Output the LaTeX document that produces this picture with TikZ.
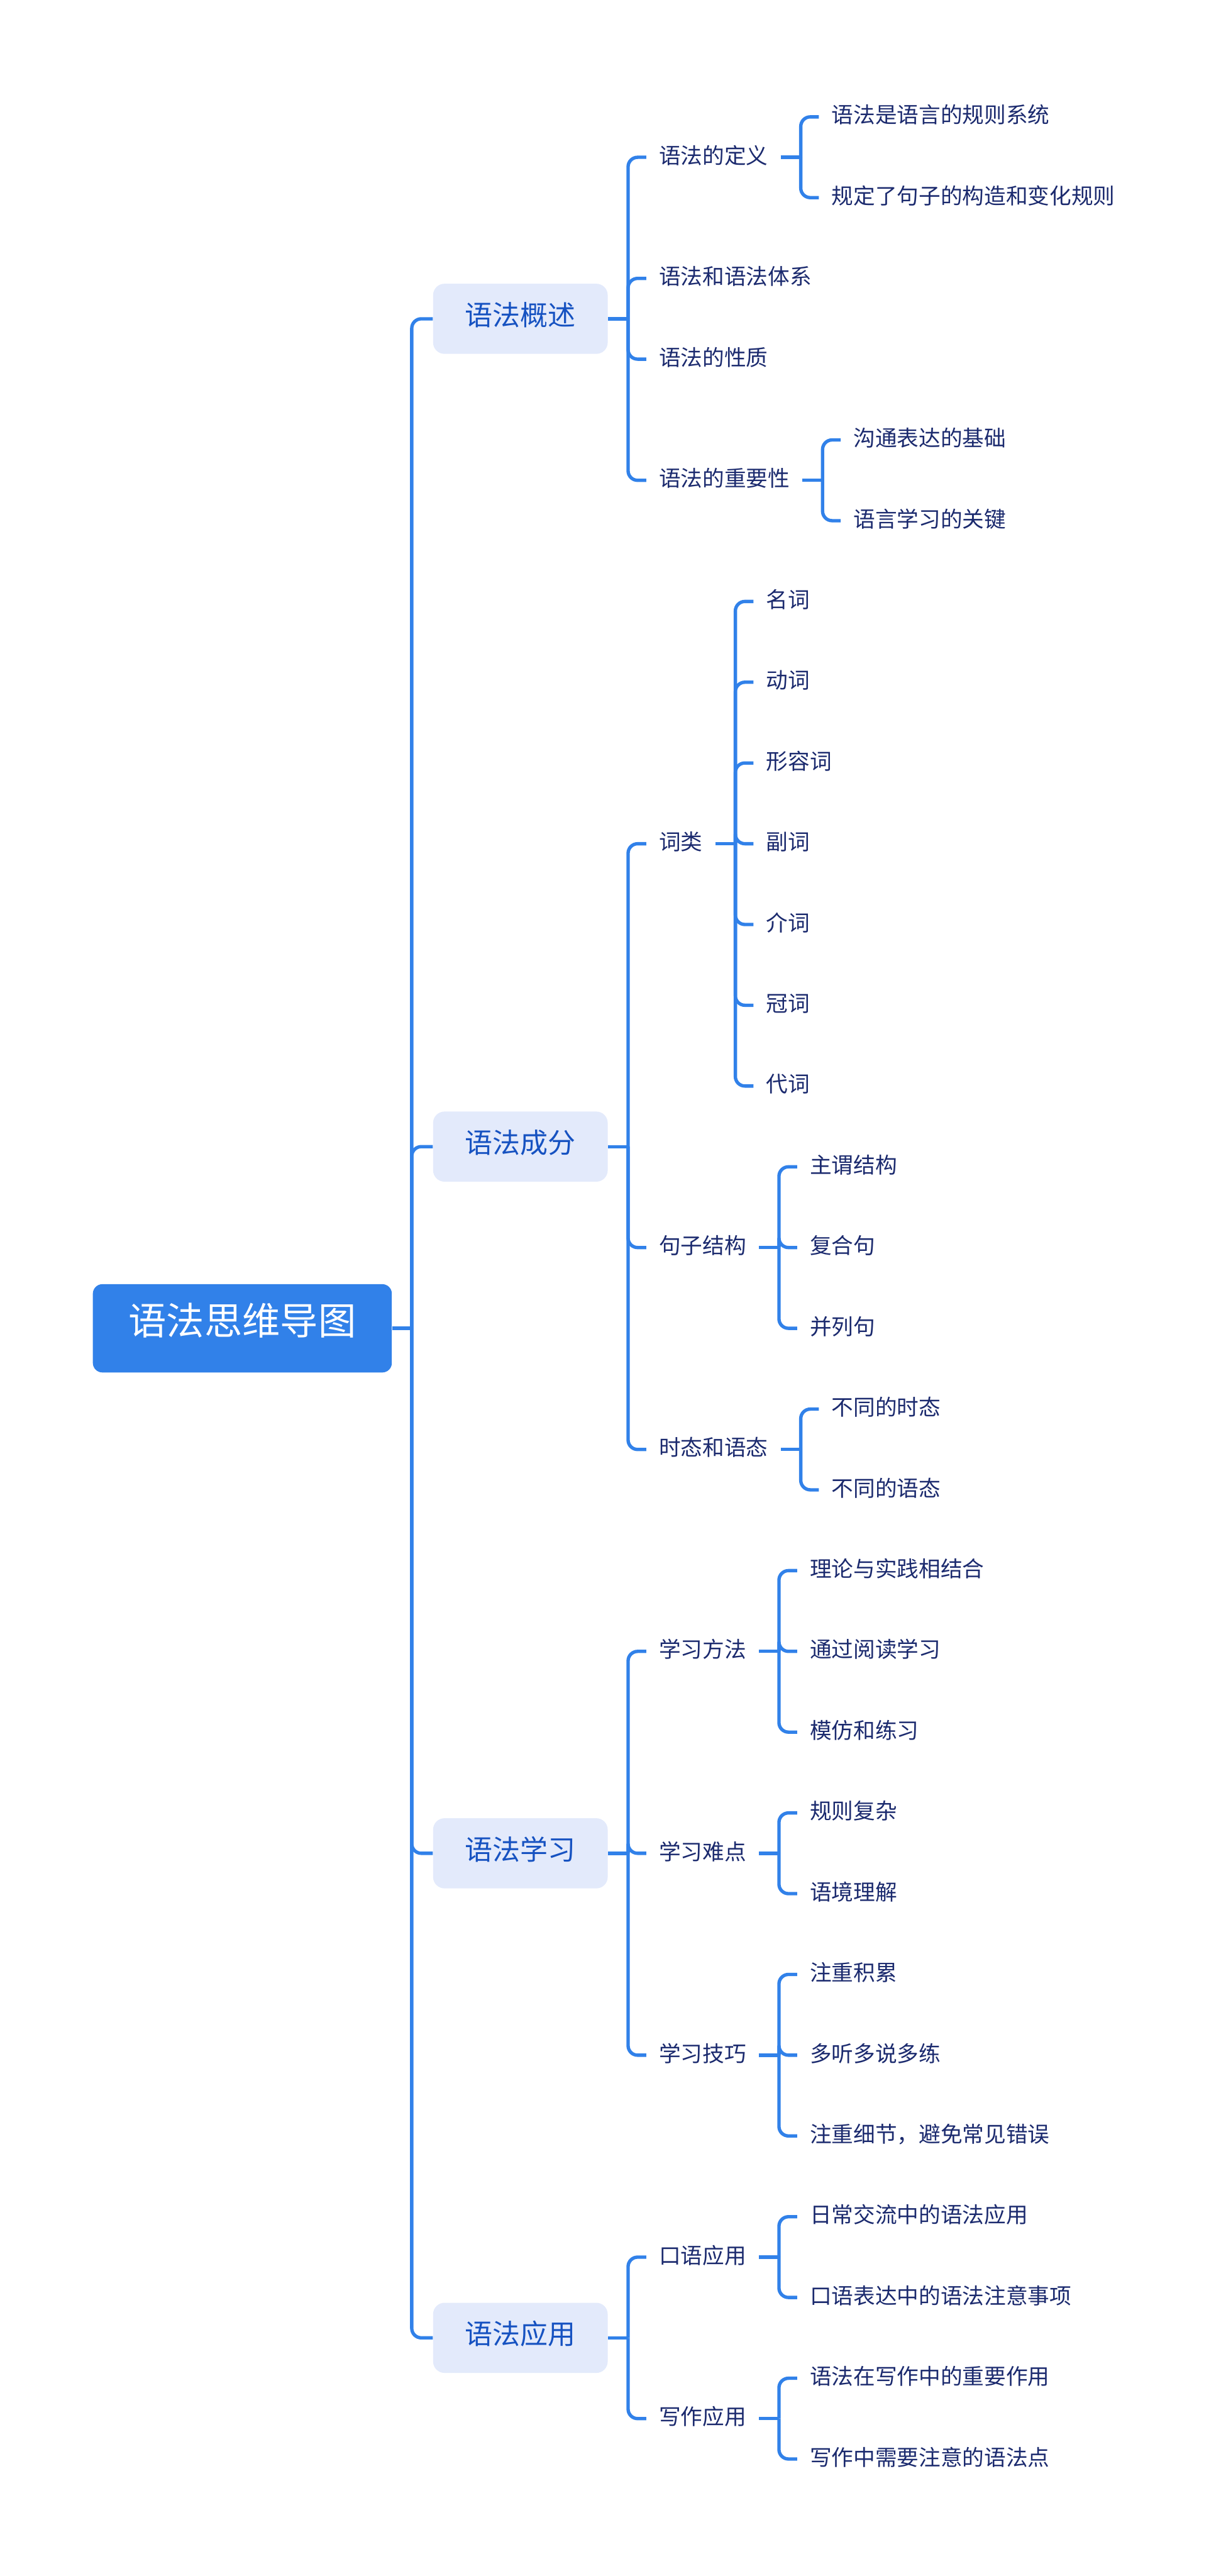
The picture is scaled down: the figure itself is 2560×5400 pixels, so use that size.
\documentclass[tikz,border=0pt]{standalone}
\usepackage{fontspec}
\setmainfont{Noto Sans CJK SC}

\definecolor{linkblue}{HTML}{3181E9}
\definecolor{topicfill}{HTML}{E3EAFB}
\definecolor{topictext}{HTML}{1652C1}
\definecolor{itemtext}{HTML}{1B2A6E}

\begin{document}
\begin{tikzpicture}[x=0.01cm, y=-0.01cm,
    link/.style={draw=linkblue, line width=2pt, rounded corners=0.2cm},
    cjk/.style={text height=0.88em, text depth=0.12em, inner ysep=0pt},
    rootbox/.style={cjk, anchor=west, fill=linkblue, text=white, rounded corners=0.2cm,
        font=\fontsize{22.6}{26}\selectfont, inner xsep=0.75cm, minimum height=1.85cm},
    topic/.style={cjk, anchor=west, xshift=0.85cm, fill=topicfill, text=topictext, rounded corners=0.24cm,
        font=\fontsize{16.5}{20}\selectfont, inner xsep=0.67cm, minimum height=1.47cm},
    item/.style={cjk, anchor=west, xshift=0.8cm, text=itemtext,
        font=\fontsize{13}{15}\selectfont, inner xsep=0.26cm}]
        \useasboundingbox (0,0) rectangle (2560,5400);

        % root and main topics
        \node[rootbox] (root) at (194,2784.5) {语法思维导图};
        \node[topic] (gs) at (root.east |- 0,668.3) {语法概述};
        \node[topic] (cf) at (root.east |- 0,2403.6) {语法成分};
        \node[topic] (xx) at (root.east |- 0,3885) {语法学习};
        \node[topic] (yy) at (root.east |- 0,4900.7) {语法应用};

        % 语法概述
        \node[item] (dy) at (gs.east |- 0,329.7) {语法的定义};
        \node[item] (tx) at (gs.east |- 0,583.6) {语法和语法体系};
        \node[item] (xz) at (gs.east |- 0,752.9) {语法的性质};
        \node[item] (zy) at (gs.east |- 0,1006.9) {语法的重要性};
        \node[item] (dy1) at (dy.east |- 0,245) {语法是语言的规则系统};
        \node[item] (dy2) at (dy.east |- 0,414.3) {规定了句子的构造和变化规则};
        \node[item] (zy1) at (zy.east |- 0,922.2) {沟通表达的基础};
        \node[item] (zy2) at (zy.east |- 0,1091.5) {语言学习的关键};

        % 语法成分
        \node[item] (cl) at (cf.east |- 0,1768.7) {词类};
        \node[item] (jz) at (cf.east |- 0,2615.2) {句子结构};
        \node[item] (st) at (cf.east |- 0,3038.5) {时态和语态};
        \node[item] (cl1) at (cl.east |- 0,1260.8) {名词};
        \node[item] (cl2) at (cl.east |- 0,1430.1) {动词};
        \node[item] (cl3) at (cl.east |- 0,1599.4) {形容词};
        \node[item] (cl4) at (cl.east |- 0,1768.7) {副词};
        \node[item] (cl5) at (cl.east |- 0,1938.0) {介词};
        \node[item] (cl6) at (cl.east |- 0,2107.3) {冠词};
        \node[item] (cl7) at (cl.east |- 0,2276.6) {代词};
        \node[item] (jz1) at (jz.east |- 0,2445.9) {主谓结构};
        \node[item] (jz2) at (jz.east |- 0,2615.2) {复合句};
        \node[item] (jz3) at (jz.east |- 0,2784.5) {并列句};
        \node[item] (st1) at (st.east |- 0,2953.8) {不同的时态};
        \node[item] (st2) at (st.east |- 0,3123.1) {不同的语态};

        % 语法学习
        \node[item] (ff) at (xx.east |- 0,3461.7) {学习方法};
        \node[item] (nd) at (xx.east |- 0,3885) {学习难点};
        \node[item] (jq) at (xx.east |- 0,4308.2) {学习技巧};
        \node[item] (ff1) at (ff.east |- 0,3292.4) {理论与实践相结合};
        \node[item] (ff2) at (ff.east |- 0,3461.7) {通过阅读学习};
        \node[item] (ff3) at (ff.east |- 0,3631.0) {模仿和练习};
        \node[item] (nd1) at (nd.east |- 0,3800.3) {规则复杂};
        \node[item] (nd2) at (nd.east |- 0,3969.6) {语境理解};
        \node[item] (jq1) at (jq.east |- 0,4138.9) {注重积累};
        \node[item] (jq2) at (jq.east |- 0,4308.2) {多听多说多练};
        \node[item] (jq3) at (jq.east |- 0,4477.5) {注重细节，避免常见错误};

        % 语法应用
        \node[item] (ky) at (yy.east |- 0,4731.5) {口语应用};
        \node[item] (xzy) at (yy.east |- 0,5070) {写作应用};
        \node[item] (ky1) at (ky.east |- 0,4646.8) {日常交流中的语法应用};
        \node[item] (ky2) at (ky.east |- 0,4816.1) {口语表达中的语法注意事项};
        \node[item] (xzy1) at (xzy.east |- 0,4985.4) {语法在写作中的重要作用};
        \node[item] (xzy2) at (xzy.east |- 0,5154.7) {写作中需要注意的语法点};

        % brackets
        \coordinate (rootb) at ([xshift=0.41cm]root.east);
        \draw[link] (root.east) -- (rootb);
        \foreach \c in {gs,cf,xx,yy} \draw[link] (\c.west) -| (rootb);

        \coordinate (gsb) at ([xshift=0.42cm]gs.east);
        \draw[link] (gs.east) -- (gsb);
        \foreach \c in {dy,tx,xz,zy} \draw[link] (\c.west) -| (gsb);
        \coordinate (cfb) at ([xshift=0.42cm]cf.east);
        \draw[link] (cf.east) -- (cfb);
        \foreach \c in {cl,jz,st} \draw[link] (\c.west) -| (cfb);
        \coordinate (xxb) at ([xshift=0.42cm]xx.east);
        \draw[link] (xx.east) -- (xxb);
        \foreach \c in {ff,nd,jq} \draw[link] (\c.west) -| (xxb);
        \coordinate (yyb) at ([xshift=0.42cm]yy.east);
        \draw[link] (yy.east) -- (yyb);
        \foreach \c in {ky,xzy} \draw[link] (\c.west) -| (yyb);

        \coordinate (dyb) at ([xshift=0.42cm]dy.east);
        \draw[link] (dy.east) -- (dyb);
        \foreach \c in {dy1,dy2} \draw[link] (\c.west) -| (dyb);
        \coordinate (zyb) at ([xshift=0.42cm]zy.east);
        \draw[link] (zy.east) -- (zyb);
        \foreach \c in {zy1,zy2} \draw[link] (\c.west) -| (zyb);
        \coordinate (clb) at ([xshift=0.42cm]cl.east);
        \draw[link] (cl.east) -- (clb);
        \foreach \c in {cl1,cl2,cl3,cl4,cl5,cl6,cl7} \draw[link] (\c.west) -| (clb);
        \coordinate (jzb) at ([xshift=0.42cm]jz.east);
        \draw[link] (jz.east) -- (jzb);
        \foreach \c in {jz1,jz2,jz3} \draw[link] (\c.west) -| (jzb);
        \coordinate (stb) at ([xshift=0.42cm]st.east);
        \draw[link] (st.east) -- (stb);
        \foreach \c in {st1,st2} \draw[link] (\c.west) -| (stb);
        \coordinate (ffb) at ([xshift=0.42cm]ff.east);
        \draw[link] (ff.east) -- (ffb);
        \foreach \c in {ff1,ff2,ff3} \draw[link] (\c.west) -| (ffb);
        \coordinate (ndb) at ([xshift=0.42cm]nd.east);
        \draw[link] (nd.east) -- (ndb);
        \foreach \c in {nd1,nd2} \draw[link] (\c.west) -| (ndb);
        \coordinate (jqb) at ([xshift=0.42cm]jq.east);
        \draw[link] (jq.east) -- (jqb);
        \foreach \c in {jq1,jq2,jq3} \draw[link] (\c.west) -| (jqb);
        \coordinate (kyb) at ([xshift=0.42cm]ky.east);
        \draw[link] (ky.east) -- (kyb);
        \foreach \c in {ky1,ky2} \draw[link] (\c.west) -| (kyb);
        \coordinate (xzyb) at ([xshift=0.42cm]xzy.east);
        \draw[link] (xzy.east) -- (xzyb);
        \foreach \c in {xzy1,xzy2} \draw[link] (\c.west) -| (xzyb);
\end{tikzpicture}
\end{document}
